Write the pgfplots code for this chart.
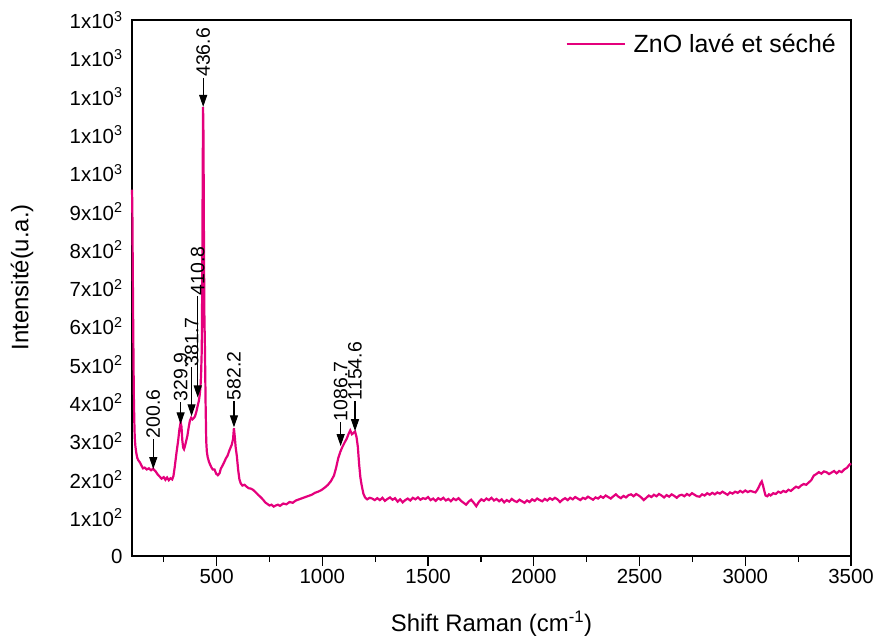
\documentclass[border=0pt]{standalone}
\usepackage{fontspec}
\setmainfont{Liberation Sans}
\usepackage{pgfplots}
\pgfplotsset{compat=1.18}
\usetikzlibrary{arrows.meta}
\definecolor{zno}{RGB}{228,0,124}
\pgfplotstableread{
x y
100 957
101 930
102 880
103 800
104 720
105 650
106 580
107 520
108 460
109 409
111 350
113 310
116 287
120 270
125 256
130 250
138 244
145 236
152 229
160 231
170 226
180 229
190 224
200 228
206 224
212 221
220 214
230 208
240 202
250 206
258 199
266 205
274 198
282 203
290 200
296 209
302 232
310 268
318 300
324 330
330 349
334 338
338 302
342 283
346 279
350 286
356 300
362 314
368 336
374 354
380 361
386 357
392 360
398 365
404 376
410 391
416 405
420 420
424 442
427 480
430 540
432 700
434 950
436 1173
438 1100
440 850
442 640
445 540
448 400
451 300
454 272
458 258
464 246
470 238
476 231
482 226
490 226
498 215
506 211
514 216
520 228
528 236
536 245
544 255
552 262
560 275
566 283
572 291
578 306
582 334
586 312
590 285
596 260
602 225
608 200
614 190
622 184
632 186
642 181
652 177
662 176
672 173
684 167
696 160
708 154
720 147
730 140
740 136
750 132
760 134
770 129
780 132
790 134
800 131
815 137
830 135
845 141
860 139
875 145
890 148
905 151
920 154
935 157
950 160
965 165
980 168
995 172
1010 178
1025 185
1040 195
1055 210
1065 230
1075 255
1085 272
1095 285
1105 296
1115 306
1125 320
1132 328
1140 318
1148 322
1155 325
1162 310
1168 285
1174 240
1180 205
1186 185
1194 163
1202 153
1212 148
1224 152
1236 150
1248 146
1260 151
1272 146
1284 152
1296 144
1308 149
1320 153
1332 147
1344 151
1356 142
1368 148
1380 140
1392 146
1404 150
1416 145
1428 152
1440 148
1452 153
1464 147
1476 151
1488 149
1500 154
1512 146
1524 150
1536 144
1548 151
1560 147
1572 152
1584 145
1596 149
1608 143
1620 150
1632 146
1644 151
1656 144
1668 139
1680 134
1692 142
1704 147
1716 139
1728 130
1740 141
1752 148
1764 144
1776 150
1788 146
1800 152
1812 145
1824 149
1836 143
1848 148
1860 140
1872 146
1884 142
1896 149
1908 144
1920 141
1932 147
1944 143
1956 139
1968 145
1980 141
1992 148
2004 144
2016 150
2028 146
2040 143
2052 149
2064 145
2076 151
2088 147
2100 152
2112 148
2124 141
2136 147
2148 151
2160 146
2172 152
2184 148
2196 154
2208 150
2220 146
2232 152
2244 149
2256 155
2268 151
2280 147
2292 153
2304 150
2316 156
2328 152
2340 158
2352 154
2364 150
2376 156
2388 161
2400 155
2412 151
2424 157
2436 153
2448 159
2460 161
2472 156
2484 162
2496 158
2508 153
2520 146
2532 152
2544 158
2556 154
2568 160
2580 156
2592 162
2604 158
2616 153
2628 159
2640 155
2652 161
2664 157
2676 152
2688 158
2700 160
2712 156
2724 162
2736 158
2748 164
2760 160
2772 156
2784 155
2796 161
2808 158
2820 164
2832 160
2844 165
2856 161
2868 166
2880 163
2892 168
2904 164
2916 160
2928 166
2940 163
2952 168
2964 165
2976 170
2988 166
3000 171
3012 167
3024 170
3036 168
3048 166
3056 172
3064 180
3072 190
3078 195
3084 184
3090 170
3096 158
3104 156
3112 161
3120 158
3132 164
3144 162
3156 168
3168 165
3180 170
3192 167
3204 173
3216 170
3228 176
3240 181
3252 178
3264 184
3276 188
3288 186
3300 192
3312 198
3324 210
3336 214
3348 219
3360 215
3372 221
3384 219
3396 214
3408 218
3420 222
3432 216
3444 222
3456 219
3468 226
3480 230
3492 238
3500 242
}\spectrum

\begin{document}
\begin{tikzpicture}
\begin{axis}[
  scale only axis,
  width=719bp, height=536bp,
  xmin=100, xmax=3500, ymin=0, ymax=1400,
  clip=false,
  axis line style={line width=1.5bp, black},
  xtick={500,1000,...,3500},
  minor xtick={250,750,...,3250},
  xtick pos=left,
  xtick align=outside,
  major tick length=10bp, minor tick length=6bp,
  every tick/.style={line width=1.2bp, black},
  ytick={0,100,...,1400},
  yticklabels={0,1x10\textsuperscript{2},2x10\textsuperscript{2},3x10\textsuperscript{2},4x10\textsuperscript{2},5x10\textsuperscript{2},6x10\textsuperscript{2},7x10\textsuperscript{2},8x10\textsuperscript{2},9x10\textsuperscript{2},1x10\textsuperscript{3},1x10\textsuperscript{3},1x10\textsuperscript{3},1x10\textsuperscript{3},1x10\textsuperscript{3}},
  ytick style={draw=none},
  yticklabel style={xshift=-6bp},
  /pgf/number format/assume math mode=true,
  /pgf/number format/set thousands separator={},
  ticklabel style={font=\fontsize{20.5}{23}\selectfont},
  xlabel={Shift Raman (cm\textsuperscript{-1})},
  ylabel={Intensité(u.a.)},
  label style={font=\fontsize{24}{28}\selectfont},
  xlabel style={at={(axis description cs:0.5,-0.127)}, anchor=center},
  ylabel style={at={(axis description cs:-0.153,0.52)}, anchor=center},
  legend style={draw=none, fill=none, at={(rel axis cs:1,1)}, anchor=north east,
    xshift=-10bp, yshift=-10bp, font=\fontsize{25}{29}\selectfont,
    /tikz/every odd column/.append style={column sep=6bp}},
  legend cell align=left,
  legend image code/.code={\draw[#1] (0bp,0bp) -- (58bp,0bp);},
]
\addplot[zno, line width=2.2bp] table[x=x,y=y] {\spectrum};
\addlegendentry{ZnO lavé et séché}

\draw[-{Triangle[width=8bp,length=12bp]}, line width=1.1bp] (axis cs:200.6,305) -- (axis cs:200.6,227);
\node[rotate=90, anchor=west, inner sep=1bp, font=\fontsize{19.5}{22}\selectfont] at (axis cs:200.6,305) {200.6};
\draw[-{Triangle[width=8bp,length=12bp]}, line width=1.1bp] (axis cs:329.9,401) -- (axis cs:329.9,344);
\node[rotate=90, anchor=west, inner sep=1bp, font=\fontsize{19.5}{22}\selectfont] at (axis cs:329.9,401) {329.9};
\draw[-{Triangle[width=8bp,length=12bp]}, line width=1.1bp] (axis cs:381.7,493) -- (axis cs:381.7,365);
\node[rotate=90, anchor=west, inner sep=1bp, font=\fontsize{19.5}{22}\selectfont] at (axis cs:381.7,493) {381.7};
\draw[-{Triangle[width=8bp,length=12bp]}, line width=1.1bp] (axis cs:410.8,678) -- (axis cs:410.8,414);
\node[rotate=90, anchor=west, inner sep=1bp, font=\fontsize{19.5}{22}\selectfont] at (axis cs:410.8,678) {410.8};
\draw[-{Triangle[width=8bp,length=12bp]}, line width=1.1bp] (axis cs:436.6,1249) -- (axis cs:436.6,1173);
\node[rotate=90, anchor=west, inner sep=1bp, font=\fontsize{19.5}{22}\selectfont] at (axis cs:436.6,1249) {436.6};
\draw[-{Triangle[width=8bp,length=12bp]}, line width=1.1bp] (axis cs:582.2,404) -- (axis cs:582.2,336);
\node[rotate=90, anchor=west, inner sep=1bp, font=\fontsize{19.5}{22}\selectfont] at (axis cs:582.2,404) {582.2};
\draw[-{Triangle[width=8bp,length=12bp]}, line width=1.1bp] (axis cs:1086.7,349) -- (axis cs:1086.7,287);
\node[rotate=90, anchor=west, inner sep=1bp, font=\fontsize{19.5}{22}\selectfont] at (axis cs:1086.7,349) {1086.7};
\draw[-{Triangle[width=8bp,length=12bp]}, line width=1.1bp] (axis cs:1154.6,404) -- (axis cs:1154.6,326);
\node[rotate=90, anchor=west, inner sep=1bp, font=\fontsize{19.5}{22}\selectfont] at (axis cs:1154.6,404) {1154.6};
\end{axis}
\pgfresetboundingbox
\path ([shift={(-132bp,-85bp)}]current axis.south west) rectangle ([shift={(24bp,20bp)}]current axis.north east);
\end{tikzpicture}
\end{document}
